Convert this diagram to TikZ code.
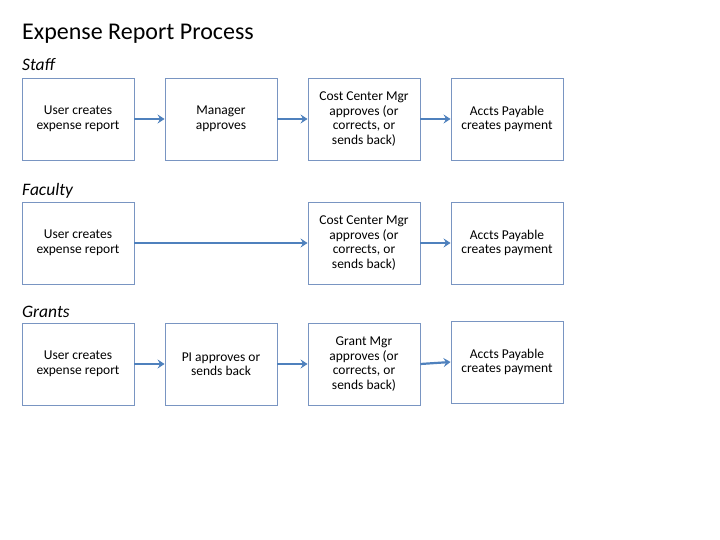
\documentclass[tikz,border=0pt]{standalone}
\usepackage{fontspec}
\setmainfont{Carlito}
\usepackage{tikz}
\usepackage{xcolor}
\usetikzlibrary{arrows.meta,positioning,shadows}
\definecolor{stepline}{RGB}{121,149,194}
\definecolor{flowblue}{RGB}{79,129,189}
\tikzset{
  stepbox/.style={draw=stepline,line width=0.9pt,fill=white,minimum width=112pt,minimum height=82pt,align=center,inner sep=2pt,
    font=\fontsize{13.5}{14.5}\selectfont,drop shadow={shadow xshift=1pt,shadow yshift=-1.2pt,opacity=0.25}},
  rowlabel/.style={anchor=base west,inner sep=0pt,font=\fontsize{17.5}{20}\selectfont\itshape},
  flow/.style={->,line width=2.2pt,flowblue,>={Stealth[length=7pt,width=9pt,inset=2.5pt]}}
}
\begin{document}
\begin{tikzpicture}[x=1pt,y=-1pt]
  \useasboundingbox (0,0) rectangle (720,540);
  \node[anchor=base west,inner sep=0pt,font=\fontsize{24}{28}\selectfont] (title) at (22,40) {Expense Report Process};
  % staff
  \node[rowlabel] (staff) at (22,71) {Staff};
  \node[stepbox] (suser) at (78,119) {User creates\\ expense report};
  \node[stepbox] (smgr) at (221,119) {Manager\\ approves};
  \node[stepbox] (scost) at (364,119) {Cost Center Mgr\\ approves (or\\ corrects, or\\ sends back)};
  \node[stepbox] (spay) at (507,119) {Accts Payable\\ creates payment};
  \draw[flow] (suser.east)--(smgr.west);
  \draw[flow] (smgr.east)--(scost.west);
  \draw[flow] (scost.east)--(spay.west);
  % faculty
  \node[rowlabel] (faculty) at (22,196) {Faculty};
  \node[stepbox] (fuser) at (78,243) {User creates\\ expense report};
  \node[stepbox] (fcost) at (364,243) {Cost Center Mgr\\ approves (or\\ corrects, or\\ sends back)};
  \node[stepbox] (fpay) at (507,243) {Accts Payable\\ creates payment};
  \draw[flow] (fuser.east)--(fcost.west);
  \draw[flow] (fcost.east)--(fpay.west);
  % grants
  \node[rowlabel] (grants) at (22,317) {Grants};
  \node[stepbox] (guser) at (78,364) {User creates\\ expense report};
  \node[stepbox] (gpi) at (221,364) {PI approves or\\ sends back};
  \node[stepbox] (gmgr) at (364,364) {Grant Mgr\\ approves (or\\ corrects, or\\ sends back)};
  \node[stepbox] (gpay) at (507,362) {Accts Payable\\ creates payment};
  \draw[flow] (guser.east)--(gpi.west);
  \draw[flow] (gpi.east)--(gmgr.west);
  \draw[flow] (gmgr.east)--(gpay.west);
\end{tikzpicture}
\end{document}
